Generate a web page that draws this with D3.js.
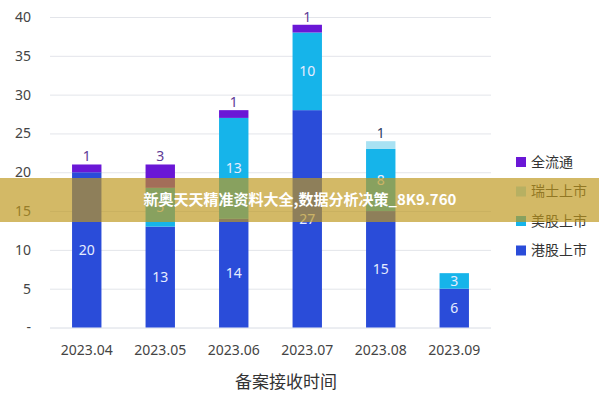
<!DOCTYPE html>
<html>
<head>
<meta charset="utf-8">
<script src="https://cdn.jsdelivr.net/npm/d3@7"></script>
<style>
  body { margin: 0; background: #fff; }
  svg { display: block; font-family: "Noto Sans", "Noto Sans CJK SC", sans-serif; }
</style>
</head>
<body>
<svg id="chart" width="599" height="400"></svg>
<script>
// data
const months = ['2023.04', '2023.05', '2023.06', '2023.07', '2023.08', '2023.09'];
const seriesNames = ['港股上市', '美股上市', '瑞士上市', '全流通'];
const hk = [20, 13, 14, 28, 15, 5];
const us = [0, 5, 13, 10, 8, 2];
const ch = [0, 0, 0, 0, 1, 0];
const full = [1, 3, 1, 1, 0, 0];
// numbers printed on the bars (as shown in the picture)
const hkLabels = ['20', '13', '14', '27', '15', '6'];
const usLabels = ['', '5', '13', '10', '8', '3'];
const chLabels = ['', '', '', '', '1', ''];
const fullLabels = ['1', '3', '1', '1', '', ''];
const yTicks = [0, 5, 10, 15, 20, 25, 30, 35, 40];
const xTitle = '备案接收时间';
const banner = '新奥天天精准资料大全,数据分析决策_8K9.760';

const colors = ['#2a4cd9', '#16b4ea', '#a9e2f3', '#6a17d6'];
const topLabelColors = ['#fff', '#fff', '#2c3e66', '#5e3a96'];

let svg = d3.select('#chart');

let x = d3.scaleBand()
	.domain(months)
	.range([50, 491])
	.paddingInner(0.6)
	.paddingOuter(0.3);

let y = d3.scaleLinear()
	.domain([0, 40])
	.range([327.5, 17]);

// rows for the stack
let rows = months.map(function(m, i) {
	return { month: m, '港股上市': hk[i], '美股上市': us[i], '瑞士上市': ch[i], '全流通': full[i] };
});
let labels = [hkLabels, usLabels, chLabels, fullLabels];

let stacked = d3.stack().keys(seriesNames)(rows);

// grid + y labels
svg.append('g')
	.selectAll('line')
	.data(yTicks)
	.enter()
	.append('line')
	.attr('x1', 50)
	.attr('x2', 491)
	.attr('y1', d => y(d) + 0.5)
	.attr('y2', d => y(d) + 0.5)
	.attr('stroke', d => d == 0 ? '#d8dce4' : '#e3e5ea')
	.attr('stroke-width', 1);

svg.append('g')
	.selectAll('text')
	.data(yTicks)
	.enter()
	.append('text')
	.attr('x', 31)
	.attr('y', d => y(d))
	.attr('dy', '0.35em')
	.attr('text-anchor', 'end')
	.attr('font-size', 14)
	.attr('fill', '#444')
	.text(d => d == 0 ? '-' : d);

// x labels
svg.append('g')
	.selectAll('text')
	.data(months)
	.enter()
	.append('text')
	.attr('x', d => x(d) + x.bandwidth() / 2)
	.attr('y', 350)
	.attr('dy', '0.35em')
	.attr('text-anchor', 'middle')
	.attr('font-size', 14)
	.attr('fill', '#444')
	.text(d => d);

svg.append('text')
	.attr('x', 286)
	.attr('y', 382)
	.attr('dy', '0.35em')
	.attr('text-anchor', 'middle')
	.attr('font-size', 17)
	.attr('font-family', '"Noto Sans CJK SC", sans-serif')
	.attr('fill', '#333')
	.text(xTitle);

// bars
let layers = svg.append('g')
	.selectAll('g')
	.data(stacked)
	.enter()
	.append('g')
	.attr('fill', (d, i) => colors[i]);

layers.selectAll('rect')
	.data(d => d.filter(p => p[1] > p[0]))
	.enter()
	.append('rect')
	.attr('x', d => x(d.data.month))
	.attr('width', x.bandwidth())
	.attr('y', d => y(d[1]))
	.attr('height', d => y(d[0]) - y(d[1]));

// labels: big segments inside, small ones on top of the bar
stacked.forEach(function(layer, k) {
	layer.forEach(function(p, i) {
		let txt = labels[k][i];
		if (!txt) return;
		let inside = (k < 2);
		svg.append('text')
			.attr('x', x(p.data.month) + x.bandwidth() / 2)
			.attr('y', inside ? y((p[0] + p[1]) / 2) : y(p[1]) - 8)
			.attr('dy', '0.35em')
			.attr('text-anchor', 'middle')
			.attr('font-size', 14)
			.attr('fill', inside ? '#e6ecff' : topLabelColors[k])
			.text(txt);
	});
});

// legend
let legend = svg.append('g')
	.selectAll('g')
	.data(seriesNames.slice().reverse())
	.enter()
	.append('g')
	.attr('transform', (d, i) => 'translate(516,' + (162 + i * 29.5) + ')');

legend.append('rect')
	.attr('x', 0)
	.attr('y', -5)
	.attr('width', 10)
	.attr('height', 10)
	.attr('fill', d => colors[seriesNames.indexOf(d)]);

legend.append('text')
	.attr('x', 15)
	.attr('dy', '0.35em')
	.attr('font-size', 14)
	.attr('font-family', '"Noto Sans CJK SC", sans-serif')
	.attr('fill', '#333')
	.text(d => d);

// banner overlay
svg.append('rect')
	.attr('x', 0)
	.attr('y', 178)
	.attr('width', 599)
	.attr('height', 44)
	.attr('fill', 'rgb(190,152,30)')
	.attr('fill-opacity', 0.68);

svg.append('text')
	.attr('x', 300)
	.attr('y', 200)
	.attr('dy', '0.35em')
	.attr('text-anchor', 'middle')
	.attr('font-size', 15)
	.attr('font-weight', 'bold')
	.attr('font-family', '"Noto Sans CJK SC", sans-serif')
	.attr('fill', '#fff')
	.text(banner);
</script>
</body>
</html>
